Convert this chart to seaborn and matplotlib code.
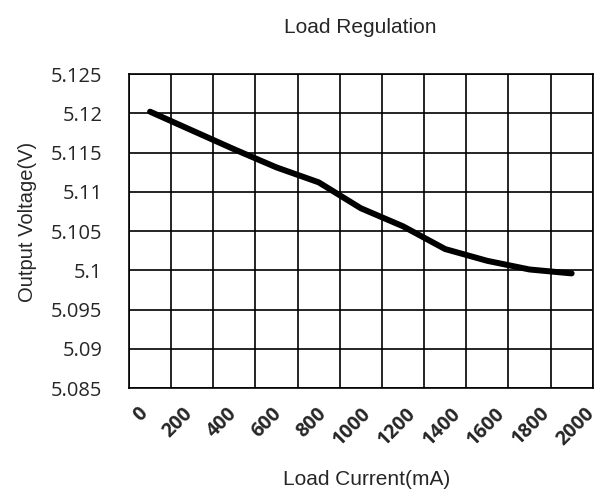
import matplotlib
matplotlib.use("Agg")
import matplotlib.pyplot as plt
import matplotlib.transforms as mtransforms
import numpy as np
import pandas as pd
import seaborn as sns

# Load regulation data
currents = ["0", "200", "400", "600", "800", "1000", "1200", "1400", "1600", "1800", "2000"]
voltages = [5.1202, 5.1178, 5.1154, 5.1131, 5.1112, 5.1079, 5.1056, 5.1027, 5.1012, 5.1001, 5.0996]
y_ticks = [5.085, 5.09, 5.095, 5.1, 5.105, 5.11, 5.115, 5.12, 5.125]
y_labels = ["5.085", "5.09", "5.095", "5.1", "5.105", "5.11", "5.115", "5.12", "5.125"]

df = pd.DataFrame({"current": currents, "voltage": voltages})

sns.set_style("white")
narrow = ["Liberation Sans Narrow", "Liberation Sans", "DejaVu Sans"]
tick_font = ["Open Sans", "DejaVu Sans"]

fig = plt.figure(figsize=(6.11, 4.96), dpi=100)
ax = fig.add_axes([0.2111, 0.2177, 0.7590, 0.6331])

sns.lineplot(data=df, x="current", y="voltage", color="black", linewidth=4.3,
             solid_capstyle="round", solid_joinstyle="round", ax=ax)

n = len(currents)
ax.set_xlim(-0.5, n - 0.5)
ax.set_ylim(y_ticks[0], y_ticks[-1])

# gridlines sit on category boundaries
ax.set_xticks(np.arange(n + 1) - 0.5, minor=True)
ax.set_xticks(np.arange(n))
ax.set_xticklabels(currents, rotation=45, ha="right", fontweight="bold",
                   fontsize=14, family=tick_font)
ax.set_yticks(y_ticks)
ax.set_yticklabels(y_labels, fontsize=14.5, family=tick_font)
ax.tick_params(axis="both", which="both", length=0)
ax.tick_params(axis="x", pad=11)
ax.tick_params(axis="y", pad=19)

# the rotated labels fan out slightly wider than the columns
for i, lab in enumerate(ax.get_xticklabels()):
    dx = (2.5 * i + 2) / 72 * 0.72
    lab.set_transform(lab.get_transform() +
                      mtransforms.ScaledTranslation(dx, 0, fig.dpi_scale_trans))

ax.grid(False)
ax.grid(True, axis="x", which="minor", color="black", linewidth=1.2)
ax.grid(True, axis="y", which="major", color="black", linewidth=1.2)
for sp in ax.spines.values():
    sp.set_visible(True)
    sp.set_color("black")
    sp.set_linewidth(1.2)

ax.set_xlabel("Load Current(mA)", fontsize=15, family=narrow)
ax.xaxis.set_label_coords(0.513, -0.262)
ax.set_ylabel("Output Voltage(V)", fontsize=14.5, family=narrow)
ax.yaxis.set_label_coords(-0.199, 0.53)
fig.text(0.59, 0.945, "Load Regulation", ha="center", va="center",
         fontsize=15, family=narrow)

fig.savefig("out.png", dpi=100, facecolor="white")
